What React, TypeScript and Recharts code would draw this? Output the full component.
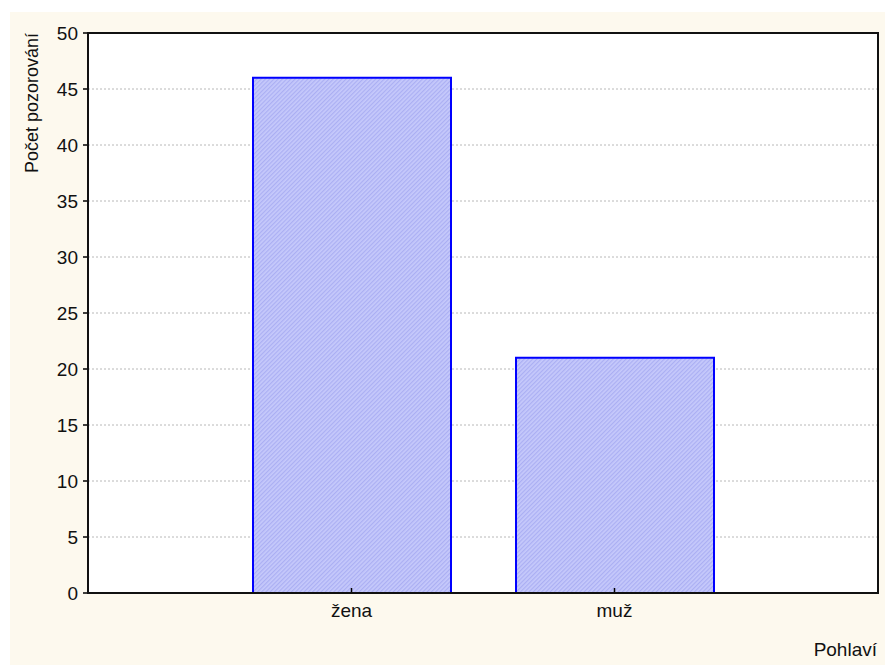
import { BarChart, Bar, XAxis, YAxis, CartesianGrid } from 'recharts'

const categories = ['žena', 'muž']
const counts = [46, 21]
const yTicks = [0, 5, 10, 15, 20, 25, 30, 35, 40, 45, 50]

const data = categories.map((name, i) => ({ name, value: counts[i] }))

const font = '"Liberation Sans", Arial, sans-serif'

const XTick = (props: any) => {
  const { x, y, payload } = props
  return (
    <g>
      <line x1={x} x2={x} y1={y - 5} y2={y} stroke="#000" strokeWidth={1.5} />
      <text x={x} y={y + 24} textAnchor="middle" fontSize={19} fontFamily={font} fill="#111">
        {payload.value}
      </text>
    </g>
  )
}

export default function App() {
  return (
    <div style={{ position: 'absolute', left: 0, top: 0, width: 885, height: 665, background: '#fff' }}>
      <div style={{ position: 'absolute', left: 10, top: 12, width: 875, height: 653, background: '#fdf9ee' }} />
      <div style={{ position: 'absolute', left: 0, top: 0 }}>
        <BarChart width={885} height={665} data={data} margin={{ top: 33, right: 7, bottom: 0, left: 0 }}>
          <defs>
            <pattern id="hatch" width="3" height="3" patternUnits="userSpaceOnUse" patternTransform="rotate(45)">
              <rect width="3" height="3" fill="#c6c9fb" />
              <rect width="1.2" height="3" fill="#abaff3" />
            </pattern>
          </defs>
          <CartesianGrid vertical={false} fill="#fff" stroke="#b8b8b8" strokeDasharray="2 2" />
          <XAxis
            dataKey="name"
            height={72}
            padding={{ left: 132, right: 132 }}
            axisLine={{ stroke: '#000', strokeWidth: 2 }}
            tickLine={false}
            tickSize={0}
            tickMargin={0}
            tick={<XTick />}
            interval={0}
          />
          <YAxis
            domain={[0, 50]}
            ticks={yTicks}
            interval={0}
            width={88}
            tickSize={5}
            tickMargin={5}
            axisLine={{ stroke: '#000', strokeWidth: 2 }}
            tickLine={{ stroke: '#000', strokeWidth: 1.5 }}
            tick={{ fontSize: 19, fontFamily: font, fill: '#111' }}
          />
          <Bar dataKey="value" barSize={198} fill="url(#hatch)" stroke="#0000ff" strokeWidth={2} isAnimationActive={false} />
        </BarChart>
      </div>
      <div
        style={{
          position: 'absolute',
          left: 87,
          top: 32,
          width: 792,
          height: 562,
          boxSizing: 'border-box',
          border: '2px solid #111',
          pointerEvents: 'none',
        }}
      />
      <svg width={885} height={665} style={{ position: 'absolute', left: 0, top: 0, pointerEvents: 'none' }}>
        <text
          transform="translate(38,33) rotate(-90)"
          textAnchor="end"
          fontSize={18}
          fontFamily={font}
          fill="#111"
        >
          Počet pozorování
        </text>
        <text x={877} y={656} textAnchor="end" fontSize={19} fontFamily={font} fill="#111">
          Pohlaví
        </text>
      </svg>
    </div>
  )
}
